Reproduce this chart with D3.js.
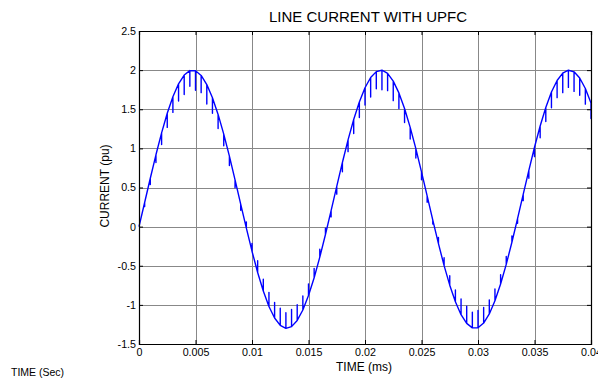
<!DOCTYPE html>
<html>
<head>
<meta charset="utf-8">
<script src="https://cdn.jsdelivr.net/npm/d3@7"></script>
<style>
  body { margin: 0; background: #fff; }
  svg { display: block; font-family: "Liberation Sans", Arial, sans-serif; }
</style>
</head>
<body>
<div id="chart"></div>
<script>
// Sample step of the trace (s)
const timeStep = 0.0005;

// Line current (pu), every 0.5 ms from 0 to 0.04 s
const currentValues = [
  0.0, 0.308, 0.618, 0.918, 1.198, 1.448, 1.660, 1.825, 1.937, 1.994,
  1.992, 1.932, 1.816, 1.648, 1.434, 1.182, 0.900, 0.598, 0.288, -0.019,
  -0.314, -0.586, -0.823, -1.020, -1.168, -1.262, -1.300, -1.278, -1.199, -1.065,
  -0.881, -0.653, -0.390, -0.101, 0.204, 0.515, 0.820, 1.108, 1.369, 1.594,
  1.775, 1.906, 1.981, 1.999, 1.958, 1.860, 1.709, 1.510, 1.269, 0.996,
  0.700, 0.392, 0.082, -0.218, -0.498, -0.748, -0.960, -1.125, -1.237, -1.294,
  -1.292, -1.232, -1.116, -0.948, -0.734, -0.482, -0.200, 0.102, 0.412, 0.719,
  1.014, 1.286, 1.523, 1.720, 1.868, 1.962, 1.999, 1.978, 1.899, 1.765,
  1.581
];

// Switching notches at each sample (pu, signed)
const notchDepths = [
  0, -0.05, -0.08, -0.1, -0.15, -0.18, -0.2, -0.22, -0.25, -0.2,
  -0.25, -0.22, -0.25, -0.2, -0.18, -0.15, -0.12, -0.1, -0.08, 0.08,
  0.1, 0.15, 0.15, 0.18, 0.2, 0.22, 0.2, 0.22, 0.2, 0.18,
  0.15, 0.12, 0.1, 0.08, -0.08, -0.1, -0.12, -0.15, -0.18, -0.2,
  -0.22, -0.25, -0.22, -0.25, -0.22, -0.25, -0.2, -0.18, -0.15, -0.12,
  -0.1, -0.08, -0.05, 0.08, 0.1, 0.12, 0.15, 0.2, 0.22, 0.2,
  0.22, 0.2, 0.18, 0.15, 0.12, 0.1, 0.08, -0.06, -0.08, -0.1,
  -0.12, -0.15, -0.18, -0.2, -0.22, -0.25, -0.22, -0.25, -0.22, -0.2,
  -0.2
];

const xTicks = [0, 0.005, 0.01, 0.015, 0.02, 0.025, 0.03, 0.035, 0.04];
const yTicks = [-1.5, -1, -0.5, 0, 0.5, 1, 1.5, 2, 2.5];

const width = 598, height = 380;
const margin = { top: 31, right: 7, bottom: 36, left: 139 };
const w = width - margin.left - margin.right;
const h = height - margin.top - margin.bottom;

const svg = d3.select("#chart").append("svg")
  .attr("width", width)
  .attr("height", height);

const g = svg.append("g")
  .attr("transform", `translate(${margin.left},${margin.top})`);

const x = d3.scaleLinear().domain([0, 0.04]).range([0, w]);
const y = d3.scaleLinear().domain([-1.5, 2.5]).range([h, 0]);

// grid
g.append("g")
  .selectAll("line")
  .data(xTicks.slice(1, -1))
  .join("line")
  .attr("x1", d => Math.round(x(d)) + 0.5)
  .attr("x2", d => Math.round(x(d)) + 0.5)
  .attr("y1", 0).attr("y2", h)
  .attr("stroke", "#888")
  .attr("stroke-width", 1);

g.append("g")
  .selectAll("line")
  .data(yTicks.slice(1, -1))
  .join("line")
  .attr("y1", d => Math.round(y(d)) + 0.5)
  .attr("y2", d => Math.round(y(d)) + 0.5)
  .attr("x1", 0).attr("x2", w)
  .attr("stroke", "#888")
  .attr("stroke-width", 1);

// build trace with notches
const pts = [];
currentValues.forEach((v, i) => {
  const t = i * timeStep;
  pts.push([t, v]);
  if (notchDepths[i] !== 0) {
    pts.push([t, v + notchDepths[i]]);
    pts.push([t, v]);
  }
});

const line = d3.line()
  .x(d => x(d[0]))
  .y(d => y(d[1]));

g.append("path")
  .datum(pts)
  .attr("fill", "none")
  .attr("stroke", "#0000ff")
  .attr("stroke-width", 1.4)
  .attr("stroke-linejoin", "round")
  .attr("d", line);

// axes (MATLAB style box, ticks inward)
const fmt = d => String(d);
g.append("g")
  .attr("transform", `translate(0,${h})`)
  .call(d3.axisBottom(x).tickValues(xTicks).tickFormat(fmt).tickSize(-4).tickPadding(4));
g.append("g")
  .call(d3.axisLeft(y).tickValues(yTicks).tickFormat(fmt).tickSize(-4).tickPadding(3));
g.append("g")
  .call(d3.axisTop(x).tickValues(xTicks).tickFormat("").tickSize(-4));
g.append("g")
  .attr("transform", `translate(${w},0)`)
  .call(d3.axisRight(y).tickValues(yTicks).tickFormat("").tickSize(-4));

g.selectAll(".domain").attr("stroke", "#000").attr("stroke-width", 1.2);
g.selectAll(".tick line").attr("stroke", "#000");
g.selectAll(".tick text").attr("fill", "#000").style("font-size", "10.7px");

// titles
svg.append("text")
  .attr("x", 368)
  .attr("y", 22)
  .attr("text-anchor", "middle")
  .style("font-size", "15px")
  .text("LINE CURRENT WITH UPFC");

svg.append("text")
  .attr("x", 364)
  .attr("y", 371)
  .attr("text-anchor", "middle")
  .style("font-size", "12px")
  .text("TIME (ms)");

svg.append("text")
  .attr("transform", `translate(109,186) rotate(-90)`)
  .attr("text-anchor", "middle")
  .style("font-size", "12px")
  .text("CURRENT (pu)");

svg.append("text")
  .attr("x", 11)
  .attr("y", 376)
  .style("font-size", "10.5px")
  .text("TIME (Sec)");
</script>
</body>
</html>
